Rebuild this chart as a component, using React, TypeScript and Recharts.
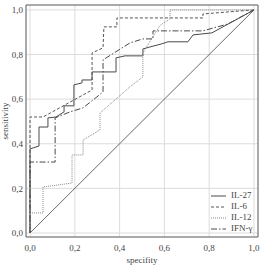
import React from "react";
import { LineChart, Line, XAxis, YAxis, CartesianGrid, Legend, ReferenceArea } from "recharts";

// ROC curves: x = 1 - specificity, y = sensitivity
const il27 = [
  { x: 0, y: 0 }, { x: 0, y: 0.377 }, { x: 0.04, y: 0.39 }, { x: 0.04, y: 0.475 },
  { x: 0.08, y: 0.475 }, { x: 0.08, y: 0.516 }, { x: 0.116, y: 0.52 }, { x: 0.152, y: 0.543 },
  { x: 0.152, y: 0.57 }, { x: 0.196, y: 0.57 }, { x: 0.196, y: 0.664 }, { x: 0.232, y: 0.673 },
  { x: 0.232, y: 0.686 }, { x: 0.277, y: 0.686 }, { x: 0.277, y: 0.722 }, { x: 0.384, y: 0.722 },
  { x: 0.384, y: 0.785 }, { x: 0.424, y: 0.794 }, { x: 0.504, y: 0.794 }, { x: 0.504, y: 0.825 },
  { x: 0.536, y: 0.834 }, { x: 0.589, y: 0.848 }, { x: 0.616, y: 0.857 }, { x: 0.705, y: 0.857 },
  { x: 0.728, y: 0.888 }, { x: 0.812, y: 0.897 }, { x: 1, y: 1 },
];

const il6 = [
  { x: 0, y: 0 }, { x: 0, y: 0.52 }, { x: 0.058, y: 0.52 }, { x: 0.277, y: 0.641 },
  { x: 0.277, y: 0.807 }, { x: 0.326, y: 0.83 }, { x: 0.33, y: 0.924 }, { x: 0.388, y: 0.924 },
  { x: 0.388, y: 0.964 }, { x: 0.772, y: 0.964 }, { x: 0.772, y: 0.982 }, { x: 1, y: 1 },
];

const il12 = [
  { x: 0, y: 0 }, { x: 0, y: 0.09 }, { x: 0.058, y: 0.09 }, { x: 0.058, y: 0.206 },
  { x: 0.1875, y: 0.224 }, { x: 0.1875, y: 0.35 }, { x: 0.237, y: 0.35 }, { x: 0.237, y: 0.417 },
  { x: 0.3125, y: 0.462 }, { x: 0.3125, y: 0.538 }, { x: 0.446, y: 0.655 }, { x: 0.504, y: 0.7 },
  { x: 0.504, y: 0.807 }, { x: 0.58, y: 0.93 }, { x: 0.625, y: 0.96 }, { x: 0.625, y: 1 },
  { x: 1, y: 1 },
];

const ifng = [
  { x: 0, y: 0 }, { x: 0, y: 0.318 }, { x: 0.112, y: 0.318 }, { x: 0.112, y: 0.516 },
  { x: 0.179, y: 0.543 }, { x: 0.237, y: 0.561 }, { x: 0.326, y: 0.632 }, { x: 0.326, y: 0.776 },
  { x: 0.446, y: 0.852 }, { x: 0.504, y: 0.87 }, { x: 0.549, y: 0.87 }, { x: 0.549, y: 0.906 },
  { x: 0.772, y: 0.906 }, { x: 0.884, y: 0.937 }, { x: 1, y: 1 },
];

const chance = [{ x: 0, y: 0 }, { x: 1, y: 1 }];

const axisTicks = [0, 0.2, 0.4, 0.6, 0.8, 1];

const series = [
  { name: "IL-27", data: il27, color: "#4a4a4a", dash: undefined as string | undefined },
  { name: "IL-6", data: il6, color: "#555555", dash: "3 2" },
  { name: "IL-12", data: il12, color: "#8a8a8a", dash: "1 1" },
  { name: "IFN-\u03b3", data: ifng, color: "#4a4a4a", dash: "6 2 1.5 2" },
];

const FONT = "'Liberation Serif', 'Times New Roman', serif";
const fmt = (v: number) => v.toFixed(1).replace(".", ",");

const LegendBox = () => (
  <div style={{ fontFamily: FONT, fontSize: 9, color: "#444", lineHeight: "11px" }}>
    {series.map((s) => (
      <div key={s.name} style={{ display: "flex", alignItems: "center", height: 11 }}>
        <svg width={18} height={11} style={{ display: "block" }}>
          <line x1={1} y1={6} x2={16} y2={6} stroke={s.color} strokeWidth={1} strokeDasharray={s.dash} />
        </svg>
        <span style={{ marginLeft: 3 }}>{s.name}</span>
      </div>
    ))}
  </div>
);

export default function App() {
  return (
    <div style={{ position: "absolute", left: 0, top: 0, background: "#fff" }}>
      <LineChart width={261} height={266} margin={{ top: 5, right: 3, left: 0, bottom: 0 }}>
        <CartesianGrid stroke="#dcdcdc" strokeWidth={1} />
        <XAxis
          type="number"
          dataKey="x"
          domain={[-0.018, 1.018]}
          ticks={axisTicks}
          tickFormatter={fmt}
          allowDataOverflow
          height={29}
          axisLine={false}
          tickLine={false}
          tickSize={0}
          tickMargin={8}
          tick={{ fontFamily: FONT, fontSize: 9, fill: "#444" }}
          label={{ value: "specifity", position: "insideBottom", offset: 3, style: { fontFamily: FONT, fontSize: 9, fill: "#444" } }}
        />
        <YAxis
          type="number"
          dataKey="y"
          domain={[-0.018, 1.022]}
          ticks={axisTicks}
          tickFormatter={fmt}
          allowDataOverflow
          width={26}
          axisLine={false}
          tickLine={false}
          tickSize={0}
          tickMargin={3}
          tick={{ fontFamily: FONT, fontSize: 9, fill: "#444" }}
          label={{ value: "sensitivity", angle: -90, position: "insideLeft", offset: 5, style: { fontFamily: FONT, fontSize: 9, fill: "#444", textAnchor: "middle" } }}
        />
        <ReferenceArea x1={-0.018} x2={1.018} y1={-0.018} y2={1.022} fill="none" stroke="#666" strokeWidth={1} ifOverflow="visible" />
        <Line data={chance} dataKey="y" stroke="#6a6a6a" strokeWidth={1} dot={false} isAnimationActive={false} legendType="none" />
        {series.map((s) => (
          <Line
            key={s.name}
            name={s.name}
            data={s.data}
            dataKey="y"
            type="linear"
            stroke={s.color}
            strokeWidth={1}
            strokeDasharray={s.dash}
            dot={false}
            isAnimationActive={false}
          />
        ))}
        <Legend
          layout="vertical"
          align="center"
          verticalAlign="middle"
          content={() => <LegendBox />}
          wrapperStyle={{ left: 210, top: 190, width: 50 }}
        />
      </LineChart>
    </div>
  );
}
